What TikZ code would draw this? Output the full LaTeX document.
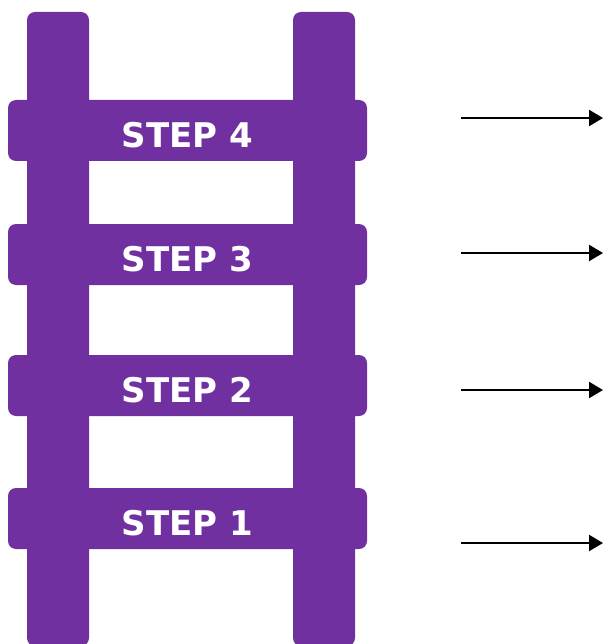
\documentclass[tikz,border=0pt]{standalone}
\usepackage{fontspec}
\setmainfont{DejaVu Sans}
\usetikzlibrary{arrows.meta}
\definecolor{ladder}{HTML}{7030A0}
\tikzset{
  rail/.style={fill=ladder, rounded corners=8pt},
  rung/.style={fill=ladder, rounded corners=8pt, minimum width=359pt, minimum height=61pt,
    inner sep=0pt, text height=34pt, text depth=0pt, text=white,
    font=\fontsize{34}{36}\selectfont\bfseries},
  pointer/.style={line width=2.4pt, -{Triangle[length=14pt,width=16pt]}}
}
\begin{document}
\begin{tikzpicture}[x=1pt,y=-1pt]
        \useasboundingbox (0,0) rectangle (603,644);
        \fill[rail] (27,12) rectangle (89,646);
        \fill[rail] (293,12) rectangle (355,646);
        \node[rung] (step4) at (187.5,130.5) {STEP 4};
        \node[rung] (step3) at (187.5,254.5) {STEP 3};
        \node[rung] (step2) at (187.5,385.5) {STEP 2};
        \node[rung] (step1) at (187.5,518.5) {STEP 1};
        \coordinate (from4) at (461,118);
        \coordinate (to4) at (603,118);
        \coordinate (from3) at (461,253);
        \coordinate (to3) at (603,253);
        \coordinate (from2) at (461,390);
        \coordinate (to2) at (603,390);
        \coordinate (from1) at (461,543);
        \coordinate (to1) at (603,543);
        \draw[pointer] (from4) -- (to4);
        \draw[pointer] (from3) -- (to3);
        \draw[pointer] (from2) -- (to2);
        \draw[pointer] (from1) -- (to1);
    \end{tikzpicture}
\end{document}
